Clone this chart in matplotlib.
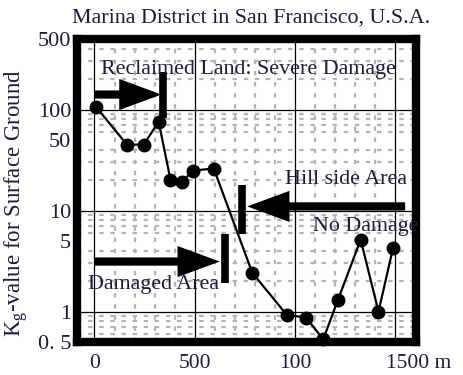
import matplotlib
matplotlib.use("Agg")
import matplotlib.pyplot as plt
from matplotlib.ticker import FixedLocator, NullFormatter
import matplotlib.transforms as mtransforms

plt.rcParams['font.family'] = ['Liberation Serif', 'DejaVu Serif']
plt.rcParams['mathtext.fontset'] = 'custom'
plt.rcParams['mathtext.rm'] = 'Liberation Serif'
plt.rcParams['mathtext.it'] = 'Liberation Serif:italic'

# distance along the survey line (m) and Kg-value at each site
distance_m = [10, 162, 246, 320, 379, 438, 492, 595, 787, 959, 1057, 1141, 1215, 1328, 1417, 1490]
kg_value = [105, 45, 45, 76, 20.3, 19.4, 24.9, 26.1, 2.43, 0.93, 0.87, 0.53, 1.31, 5.16, 1.0, 4.3]

x_ticks = [0, 500, 1000, 1500]
x_tick_labels = ['0', '500', '100', '1500 m']
y_ticks = [0.5, 1, 5, 10, 50, 100, 500]
y_tick_labels = ['0. 5', '1', '5', '10', '50', '100', '500']

txt_color = '#1c1c40'
note_size = 15.8

fig = plt.figure(figsize=(4.63, 3.75), dpi=100)
ax = fig.add_axes([0.166, 0.088, 0.732, 0.808])

ax.set_yscale('log')
ax.set_xlim(-88, 1603)
ax.set_ylim(0.5, 500)

# grid: solid major lines, grey dashes for minor lines
ax.xaxis.set_major_locator(FixedLocator(x_ticks))
ax.xaxis.set_minor_locator(FixedLocator([m for m in range(-100, 1700, 100) if m % 500]))
ax.yaxis.set_major_locator(FixedLocator(y_ticks))
ax.yaxis.set_minor_locator(FixedLocator([k * 10.0 ** e for e in (-1, 0, 1, 2) for k in range(2, 10)]))
ax.yaxis.set_minor_formatter(NullFormatter())
ax.set_xticklabels(x_tick_labels)
ax.set_yticklabels(y_tick_labels)

ax.grid(which='minor', color='#b4b4b4', linestyle=(0, (2, 3)), linewidth=1.6)
for v in x_ticks:
    ax.axvline(v, color='black', lw=0.9, zorder=1)
for v in (1, 10, 100):
    ax.axhline(v, color='black', lw=0.9, zorder=1)

ax.tick_params(which='both', length=0)
ax.tick_params(axis='y', labelsize=16, pad=4, labelcolor=txt_color)
ax.tick_params(axis='x', labelsize=15.5, pad=9, labelcolor=txt_color)
last = ax.get_xticklabels()[-1]
last.set_horizontalalignment('left')
last.set_transform(last.get_transform() + mtransforms.ScaledTranslation(-9 / 100, 0, fig.dpi_scale_trans))

for s in ax.spines.values():
    s.set_linewidth(6)
    s.set_color('black')

ax.plot(distance_m, kg_value, color='black', lw=1.6, marker='o', markersize=9,
        zorder=5, clip_on=False)

# zone arrows with stop bars
arrow_style = 'simple,head_length=1.9,head_width=1.4,tail_width=0.37'
def zone_arrow(x0, x1, y):
    ax.annotate('', xy=(x1, y), xytext=(x0, y),
                arrowprops=dict(arrowstyle=arrow_style, mutation_scale=16, color='black',
                                shrinkA=0, shrinkB=0, lw=0), zorder=4)

zone_arrow(0, 334, 141)
ax.vlines(344, 83, 237, color='black', lw=5.5, zorder=4)
zone_arrow(1550, 762, 11.0)
ax.vlines(738, 5.8, 18.1, color='black', lw=5.5, zorder=4)
zone_arrow(0, 625, 3.13)
ax.vlines(649, 1.94, 5.8, color='black', lw=5.5, zorder=4)

ax.text(767, 249, 'Reclaimed Land: Severe Damage', ha='center', va='center',
        fontsize=note_size, color=txt_color, zorder=6)
ax.text(1559, 20.3, 'Hill side Area', ha='right', va='center',
        fontsize=note_size, color=txt_color, zorder=6)
ax.text(1092, 6.95, 'No Damage', ha='left', va='center',
        fontsize=note_size, color=txt_color, zorder=6, clip_on=False)
ax.text(-34, 1.85, 'Damaged Area', ha='left', va='center',
        fontsize=note_size, color=txt_color, zorder=6)

fig.text(251 / 463, 1 - 18 / 375, 'Marina District in San Francisco, U.S.A.',
         ha='center', va='center', fontsize=15.8, color=txt_color)
fig.text(16 / 463, 1 - 203 / 375, r'K$_\mathrm{g}$-value for Surface Ground',
         ha='center', va='center', rotation=90, fontsize=16.5, color=txt_color)

fig.savefig('out.png', dpi=100)
